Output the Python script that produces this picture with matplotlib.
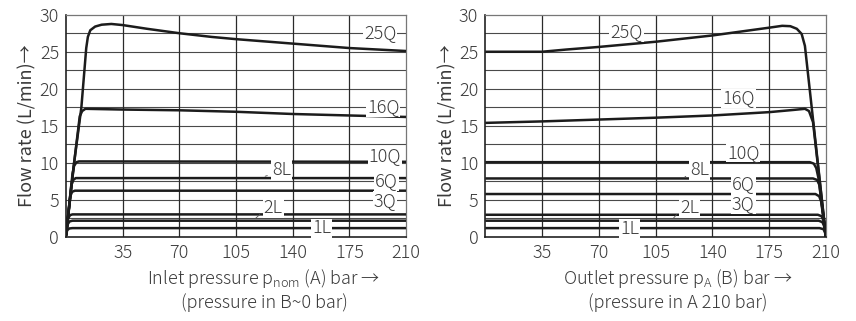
import matplotlib
matplotlib.use("Agg")
import matplotlib.pyplot as plt

# curve data (pressure in bar, flow in L/min)
labels = ["25Q", "16Q", "10Q", "8L", "6Q", "3Q", "2L", "1L"]

# left chart: inlet pressure
left_x = {
    "25Q": [0, 5, 9.5, 12.5, 13.5, 15, 18, 22, 28, 35, 50, 70, 90, 105, 140, 175, 210],
    "16Q": [0, 5, 8.5, 10, 12, 35, 70, 105, 140, 175, 210],
    "10Q": [0, 4, 5, 6.5, 8, 210],
    "8L": [0, 3.3, 4.5, 6, 210],
    "6Q": [0, 2.6, 3.8, 5.5, 210],
    "3Q": [0, 1.3, 2.5, 4, 210],
    "2L": [0, 1.0, 2.2, 4, 210],
    "1L": [0, 0.7, 2.0, 4, 210],
}
left_y = {
    "25Q": [0.2, 10, 17.5, 25.5, 27.0, 27.9, 28.4, 28.65, 28.75, 28.6, 28.1, 27.5, 27.0, 26.7, 26.1, 25.5, 25.1],
    "16Q": [0.2, 10, 16.3, 17.0, 17.3, 17.2, 17.1, 16.9, 16.6, 16.4, 16.2],
    "10Q": [0.2, 8.5, 9.6, 10.1, 10.2, 10.15],
    "8L": [0.2, 7.0, 7.7, 7.95, 7.95],
    "6Q": [0.2, 5.5, 6.1, 6.25, 6.25],
    "3Q": [0.2, 2.5, 2.95, 3.05, 3.05],
    "2L": [0.15, 1.7, 2.1, 2.2, 2.2],
    "1L": [0.1, 0.9, 1.15, 1.2, 1.2],
}

# right chart: outlet pressure
right_x = {
    "25Q": [0, 35, 50, 70, 105, 140, 160, 175, 183, 188, 192, 195, 197, 210],
    "16Q": [0, 35, 70, 105, 140, 175, 190, 197, 199.5, 202, 210],
    "10Q": [0, 200, 202.5, 204, 205.3, 210],
    "8L": [0, 202, 204.5, 206, 210],
    "6Q": [0, 203.5, 205.8, 207, 210],
    "3Q": [0, 205, 207.3, 208.5, 210],
    "2L": [0, 205.5, 207.8, 208.8, 210],
    "1L": [0, 206, 208.5, 209.4, 210],
}
right_y = {
    "25Q": [25.0, 25.0, 25.3, 25.65, 26.35, 27.2, 27.8, 28.25, 28.5, 28.45, 28.1, 27.4, 25.8, 0],
    "16Q": [15.4, 15.6, 15.85, 16.1, 16.4, 16.85, 17.15, 17.3, 17.0, 15.5, 0],
    "10Q": [10.1, 10.1, 9.9, 9.3, 8.0, 0],
    "8L": [7.9, 7.9, 7.7, 7.0, 0],
    "6Q": [5.8, 5.8, 5.5, 4.8, 0],
    "3Q": [3.0, 3.0, 2.8, 2.2, 0],
    "2L": [2.2, 2.2, 2.0, 1.5, 0],
    "1L": [1.2, 1.2, 1.05, 0.6, 0],
}

x_ticks = [35, 70, 105, 140, 175, 210]
y_ticks = [0, 5, 10, 15, 20, 25, 30]
y_grid = [2.5, 5, 7.5, 10, 12.5, 15, 17.5, 20, 22.5, 25, 27.5]

ylabel = "Flow rate (L/min)\u2192"
left_xlabel = ["Inlet pressure p$_\\mathregular{nom}$ (A) bar \u2192", "(pressure in B~0 bar)"]
right_xlabel = ["Outlet pressure p$_\\mathregular{A}$ (B) bar \u2192", "(pressure in A 210 bar)"]

# label placement: text position, and optional leader end point
left_label_pos = {
    "25Q": (194, 27.5, None), "16Q": (196, 17.5, None), "10Q": (197, 10.9, None),
    "8L": (133, 9.0, (123, 8.2)), "6Q": (198, 7.5, None), "3Q": (197, 4.85, None),
    "2L": (128, 3.9, (116, 2.3)), "1L": (158, 1.15, None),
}
right_label_pos = {
    "25Q": (87, 27.6, None), "16Q": (156, 18.7, None), "10Q": (159, 11.4, None),
    "8L": (132, 9.0, (123, 8.1)), "6Q": (159, 7.15, None), "3Q": (159, 4.5, None),
    "2L": (126, 3.9, (115, 2.3)), "1L": (89, 1.1, None),
}

TXT = "#3a3a3a"
plt.rcParams['font.family'] = ['Noto Sans CJK JP', 'DejaVu Sans']
plt.rcParams['font.weight'] = 'light'
plt.rcParams['mathtext.default'] = 'regular'

fig = plt.figure(figsize=(8.56, 3.21), dpi=100)
ax_l = fig.add_axes([66 / 856, 1 - 237 / 321, 340 / 856, 222.3 / 321])
ax_r = fig.add_axes([485.3 / 856, 1 - 237 / 321, 340.7 / 856, 222.3 / 321])


def draw_panel(ax, xs, ys, label_pos, xlabel, label_cx):
    for y in y_grid:
        ax.axhline(y, color="#4a4a4a", lw=0.8, zorder=1)
    for x in x_ticks[:-1]:
        ax.axvline(x, color="#2a2a2a", lw=0.9, zorder=1)
    for name in labels:
        ax.plot(xs[name], ys[name], color="#1c1c1c", lw=1.8,
                solid_capstyle="butt", solid_joinstyle="round", zorder=3)
    for name in labels:
        tx, ty, leader = label_pos[name]
        ax.text(tx, ty, name, ha="center", va="center", fontsize=13,
                color=TXT, zorder=5,
                bbox=dict(fc="white", ec="none", pad=0.6))
        if leader is not None:
            ax.annotate("", xy=leader, xytext=(tx - 7, ty - 0.6),
                        arrowprops=dict(arrowstyle="-", color="#555", lw=0.6),
                        zorder=4)
    ax.set_xlim(0, 210)
    ax.set_ylim(0, 30)
    ax.set_xticks(x_ticks)
    ax.set_yticks(y_ticks)
    ax.tick_params(length=0, labelsize=13, labelcolor=TXT, pad=5)
    for s in ["top", "right"]:
        ax.spines[s].set_color("#777")
        ax.spines[s].set_linewidth(0.9)
    for s in ["left", "bottom"]:
        ax.spines[s].set_color("#222")
        ax.spines[s].set_linewidth(1.2)
    ax.set_ylabel(ylabel, fontsize=13, color=TXT, labelpad=2)
    fig.text(label_cx / 856, 1 - 278 / 321, xlabel[0], ha="center", va="center",
             fontsize=13, color=TXT)
    fig.text(label_cx / 856, 1 - 303 / 321, xlabel[1], ha="center", va="center",
             fontsize=13, color=TXT)


draw_panel(ax_l, left_x, left_y, left_label_pos, left_xlabel, 264)
draw_panel(ax_r, right_x, right_y, right_label_pos, right_xlabel, 678)

fig.savefig("out.png", dpi=100)
